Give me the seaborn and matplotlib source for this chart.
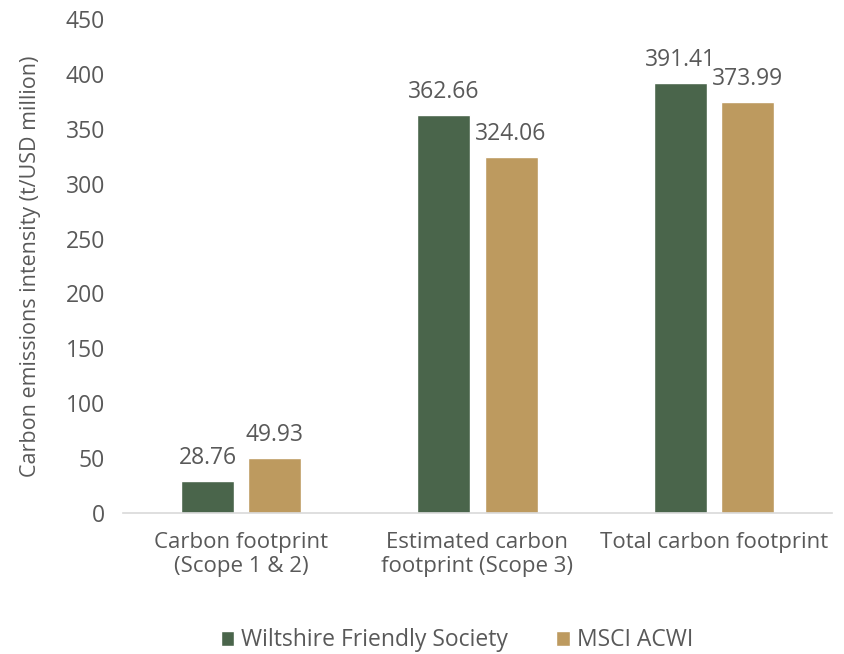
import matplotlib
matplotlib.use("Agg")
import matplotlib.pyplot as plt
import seaborn as sns
import pandas as pd

categories = ["Carbon footprint\n(Scope 1 & 2)", "Estimated carbon\nfootprint (Scope 3)", "Total carbon footprint"]
series_names = ["Wiltshire Friendly Society", "MSCI ACWI"]
wfs_values = [28.76, 362.66, 391.41]
msci_values = [49.93, 324.06, 373.99]
yticks = [0, 50, 100, 150, 200, 250, 300, 350, 400, 450]

sns.set_theme(style="white")
plt.rcParams['font.family'] = ['Open Sans', 'DejaVu Sans']
text_color = "#595959"

df = pd.DataFrame({
    "category": categories * 2,
    "series": [series_names[0]] * 3 + [series_names[1]] * 3,
    "value": wfs_values + msci_values,
})

fig = plt.figure(figsize=(8.44, 6.54), dpi=100)
ax = fig.add_axes([0.1457, 0.2156, 0.8401, 0.7554])
sns.barplot(data=df, x="category", y="value", hue="series",
            palette=["#4A654B", "#BD9A5F"], width=0.568, gap=0.21,
            saturation=1, ax=ax, legend=True)

for c in ax.containers:
    ax.bar_label(c, labels=[f"{v:.2f}" for v in c.datavalues], padding=8,
                 fontsize=16.5, color=text_color)

ax.set_ylim(0, 450)
ax.set_yticks(yticks)
ax.set_yticklabels([str(t) for t in yticks], fontsize=16.5, color=text_color)
ax.tick_params(axis="x", labelsize=16, colors=text_color, length=0, pad=14)
for lbl in ax.get_xticklabels():
    lbl.set_linespacing(1.15)
ax.tick_params(axis="y", length=0, pad=13)
ax.set_xlabel("")
ax.set_ylabel("Carbon emissions intensity (t/USD million)", fontsize=15.5, color=text_color, labelpad=18)
ax.set_xlim(-0.5, 2.5)
for s in ["top", "right", "left"]:
    ax.spines[s].set_visible(False)
ax.spines["bottom"].set_color("#D9D9D9")
ax.spines["bottom"].set_linewidth(1.2)

ax.legend(loc="upper center", bbox_to_anchor=(0.471, -0.192), ncol=2, frameon=False,
          fontsize=16.5, labelcolor=text_color, handlelength=0.6, handleheight=0.6,
          handletextpad=0.3, columnspacing=2.1)

fig.savefig("out.png", dpi=100)
